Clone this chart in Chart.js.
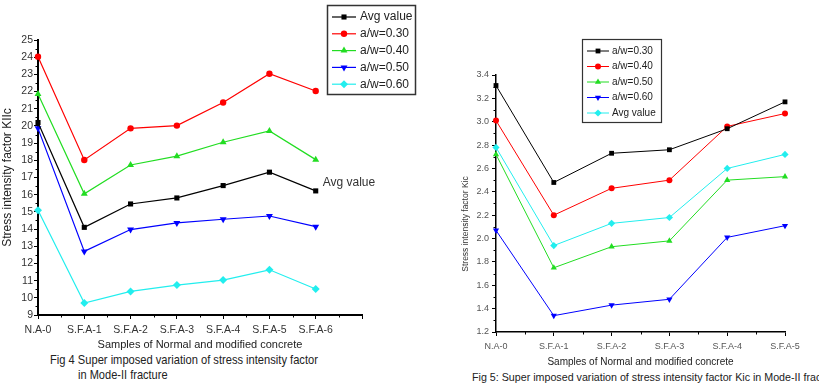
<!DOCTYPE html>
<html>
<head>
<meta charset="utf-8">
<script src="https://cdn.jsdelivr.net/npm/chart.js@4.4.0/dist/chart.umd.min.js"></script>
<style>
  body { margin: 0; background: #fff; width: 819px; height: 386px; overflow: hidden; position: relative; }
  #wrap1 { position: absolute; left: 0; top: 0; width: 420px; height: 352px; }
  #wrap2 { position: absolute; left: 420px; top: 0; width: 399px; height: 368px; }
  .cap { position: absolute; white-space: nowrap; color: #222; transform-origin: left center; }
  #cap1a, #cap1b { font: 13px "Liberation Sans", Arial, sans-serif; }
  #cap2 { font: 10.7px "Liberation Sans", Arial, sans-serif; }
  #ytitle2 { font: 8.5px "Liberation Sans", Arial, sans-serif; color: #333; transform: rotate(-90deg); transform-origin: center center; }
</style>
</head>
<body>
<div id="wrap1"><canvas id="kiic"></canvas></div>
<div id="wrap2"><canvas id="kic"></canvas></div>
<div class="cap" id="cap1a" data-w="268" style="left:50px;top:352px;">Fig 4 Super imposed variation of stress intensity factor</div>
<div class="cap" id="cap1b" data-w="90" style="left:78px;top:367px;">in Mode-II fracture</div>
<div class="cap" id="cap2" style="left:472px;top:371px;">Fig 5: Super imposed variation of stress intensity factor Kic in Mode-II fracture</div>
<div class="cap" id="ytitle2" style="left:415px;top:219px;width:100px;text-align:center;">Stress intensity factor Kic</div>

<script>
//.. Fig 4 data (Mode-II, KIIc)
const samples4 = ['N.A-0', 'S.F.A-1', 'S.F.A-2', 'S.F.A-3', 'S.F.A-4', 'S.F.A-5', 'S.F.A-6', ''];
const avg4 = [20.2, 14.1, 15.46, 15.81, 16.53, 17.31, 16.22];
const aw30_4 = [24.03, 18.02, 19.86, 20.02, 21.36, 23.04, 22.03];
const aw40_4 = [21.86, 16.05, 17.73, 18.24, 19.05, 19.71, 18.04];
const aw50_4 = [19.86, 12.7, 13.97, 14.36, 14.57, 14.76, 14.14];
const aw60_4 = [15.1, 9.7, 10.37, 10.74, 11.03, 11.63, 10.51];
const yTicks4 = { min: 9, max: 25, step: 1 };

//.. Fig 5 data (Kic)
const samples5 = ['N.A-0', 'S.F.A-1', 'S.F.A-2', 'S.F.A-3', 'S.F.A-4', 'S.F.A-5'];
const aw30_5 = [3.31, 2.48, 2.73, 2.76, 2.94, 3.17];
const aw40_5 = [3.01, 2.20, 2.43, 2.50, 2.96, 3.07];
const aw50_5 = [2.72, 1.75, 1.93, 1.98, 2.50, 2.53];
const aw60_5 = [2.07, 1.34, 1.43, 1.48, 2.01, 2.11];
const avg5 = [2.78, 1.94, 2.13, 2.18, 2.60, 2.72];
const yTicks5 = { min: 1.2, max: 3.4, step: 0.2 };

const BLACK = '#000000', RED = '#ff0000', GREEN = '#22dd22', BLUE = '#0000ff', CYAN = '#22eeee';
const sans = '"Liberation Sans", Arial, sans-serif';

//.. squeeze the Fig 4 caption lines to the width they have in the figure
document.querySelectorAll('.cap[data-w]').forEach(function (el) {
    el.style.transform = 'scaleX(' + (el.dataset.w / el.offsetWidth) + ')';
});

function series(label, data, color, style, radius, rot, width) {
    return {
        label: label, data: data,
        borderColor: color, backgroundColor: color,
        pointBackgroundColor: color, pointBorderColor: color,
        pointStyle: style, pointRadius: radius, pointRotation: rot || 0,
        pointBorderWidth: 0, borderWidth: width, tension: 0
    };
}

//.. minor ticks between the major ones
const minorTicks = {
    id: 'minorTicks',
    afterDraw(chart, args, opts) {
        const ctx = chart.ctx;
        const xs = chart.scales.x, ys = chart.scales.y;
        ctx.save();
        ctx.strokeStyle = '#000';
        ctx.lineWidth = opts.width;
        ctx.beginPath();
        for (let i = 0; i < xs.ticks.length - 1; i++) {
            const px = Math.round(xs.getPixelForValue(i + 0.5)) + 0.5;
            ctx.moveTo(px, ys.bottom);
            ctx.lineTo(px, ys.bottom + opts.len);
        }
        for (let v = ys.min + opts.yStep; v < ys.max; v += opts.yStep * 2) {
            const py = Math.round(ys.getPixelForValue(v)) + 0.5;
            ctx.moveTo(xs.left, py);
            ctx.lineTo(xs.left - opts.len, py);
        }
        ctx.stroke();
        ctx.restore();
    }
};

//.. legend drawn as line-marker-line in a framed box
const boxLegend = {
    id: 'boxLegend',
    afterDraw(chart, args, opts) {
        const ctx = chart.ctx;
        ctx.save();
        ctx.strokeStyle = '#333';
        ctx.lineWidth = opts.frame;
        ctx.strokeRect(opts.x + 0.5, opts.y + 0.5, opts.w, opts.h);
        ctx.font = opts.font;
        ctx.textBaseline = 'middle';
        chart.data.datasets.forEach(function (ds, i) {
            const y = opts.y + opts.first + i * opts.gap;
            ctx.strokeStyle = ds.borderColor;
            ctx.fillStyle = ds.borderColor;
            ctx.lineWidth = ds.borderWidth;
            ctx.beginPath();
            ctx.moveTo(opts.x + opts.lx0, y);
            ctx.lineTo(opts.x + opts.lx1, y);
            ctx.stroke();
            Chart.helpers.drawPoint(ctx, {
                pointStyle: ds.pointStyle, rotation: ds.pointRotation,
                radius: ds.pointRadius, borderWidth: 0
            }, opts.x + (opts.lx0 + opts.lx1) / 2, y);
            ctx.fillStyle = '#222';
            ctx.fillText(ds.label, opts.x + opts.tx, y);
        });
        ctx.restore();
    }
};

//.. "Avg value" note next to the last average point
const avgNote = {
    id: 'avgNote',
    afterDraw(chart, args, opts) {
        if (!opts.text) return;
        const meta = chart.getDatasetMeta(opts.index);
        const pt = meta.data[meta.data.length - 1];
        const ctx = chart.ctx;
        ctx.save();
        ctx.font = opts.font;
        ctx.fillStyle = '#333';
        ctx.textBaseline = 'middle';
        ctx.fillText(opts.text, pt.x + 7, pt.y - 8);
        ctx.restore();
    }
};

function axisOptions(cfg) {
    return {
        x: {
            type: 'category', offset: false,
            afterFit: function (s) { s.height = cfg.xHeight; },
            border: { color: '#000', width: cfg.axisWidth },
            grid: { drawOnChartArea: false, drawTicks: true, tickLength: 4, tickColor: '#000', tickWidth: 1 },
            ticks: { color: cfg.tickColor, font: cfg.tickFont, padding: cfg.xPad, maxRotation: 0, autoSkip: false },
            title: { display: true, text: 'Samples of Normal and modified concrete', color: '#222', font: cfg.xTitleFont, padding: 0 }
        },
        y: {
            min: cfg.y.min, max: cfg.y.max,
            afterFit: function (s) { s.width = cfg.yWidth; },
            border: { color: '#000', width: cfg.axisWidth },
            grid: { drawOnChartArea: false, drawTicks: true, tickLength: 4, tickColor: '#000', tickWidth: 1 },
            ticks: {
                stepSize: cfg.y.step, color: cfg.tickColor, font: cfg.tickFont, padding: cfg.yPad,
                callback: cfg.yFmt
            },
            title: cfg.yTitle
        }
    };
}

//.. Fig 4
new Chart(document.getElementById('kiic').getContext('2d'), {
    type: 'line',
    data: {
        labels: samples4,
        datasets: [
            series('Avg value', avg4, BLACK, 'rect', 3.6, 0, 1.2),
            series('a/w=0.30', aw30_4, RED, 'circle', 3.2, 0, 1.2),
            series('a/w=0.40', aw40_4, GREEN, 'triangle', 4, 0, 1.2),
            series('a/w=0.50', aw50_4, BLUE, 'triangle', 4, 180, 1.2),
            series('a/w=0.60', aw60_4, CYAN, 'rectRot', 4, 0, 1.2)
        ]
    },
    options: {
        responsive: true, maintainAspectRatio: false, animation: false,
        layout: { padding: { top: 40, right: 58, left: 0, bottom: 0 } },
        scales: axisOptions({
            xHeight: 37, yWidth: 38, axisWidth: 2, tickColor: '#333',
            tickFont: { family: sans, size: 10.5 }, xPad: 5, yPad: 1,
            xTitleFont: { family: sans, size: 11 },
            y: yTicks4,
            yFmt: function (v) { return v; },
            yTitle: { display: true, text: 'Stress intensity factor KIIc', color: '#222', font: { family: sans, size: 12 }, padding: 0 }
        }),
        plugins: {
            legend: { display: false }, tooltip: { enabled: false },
            minorTicks: { len: 2.5, yStep: 0.5, width: 1 },
            boxLegend: { x: 327, y: 5, w: 88, h: 89, first: 12, gap: 16.8, lx0: 5, lx1: 29, tx: 33, frame: 1.5, font: '12px ' + sans },
            avgNote: { index: 0, text: 'Avg value', font: '12px ' + sans }
        }
    },
    plugins: [minorTicks, boxLegend, avgNote]
});

//.. Fig 5
new Chart(document.getElementById('kic').getContext('2d'), {
    type: 'line',
    data: {
        labels: samples5,
        datasets: [
            series('a/w=0.30', aw30_5, BLACK, 'rect', 3.4, 0, 1),
            series('a/w=0.40', aw40_5, RED, 'circle', 3, 0, 1),
            series('a/w=0.50', aw50_5, GREEN, 'triangle', 3.6, 0, 1),
            series('a/w=0.60', aw60_5, BLUE, 'triangle', 3.6, 180, 1),
            series('Avg value', avg5, CYAN, 'rectRot', 3.6, 0, 1)
        ]
    },
    options: {
        responsive: true, maintainAspectRatio: false, animation: false,
        layout: { padding: { top: 75, right: 34, left: 41, bottom: 0 } },
        scales: axisOptions({
            xHeight: 36, yWidth: 35, axisWidth: 1.5, tickColor: '#555',
            tickFont: { family: sans, size: 9 }, xPad: 5, yPad: 3,
            xTitleFont: { family: sans, size: 10 },
            y: yTicks5,
            yFmt: function (v) { return v.toFixed(1); },
            yTitle: { display: false }
        }),
        plugins: {
            legend: { display: false }, tooltip: { enabled: false },
            minorTicks: { len: 2.5, yStep: 0.1, width: 1 },
            boxLegend: { x: 162, y: 39, w: 79, h: 83, first: 12, gap: 15.5, lx0: 5, lx1: 27, tx: 30, frame: 1.2, font: '10px ' + sans },
            avgNote: { text: '' }
        }
    },
    plugins: [minorTicks, boxLegend, avgNote]
});
</script>
</body>
</html>
